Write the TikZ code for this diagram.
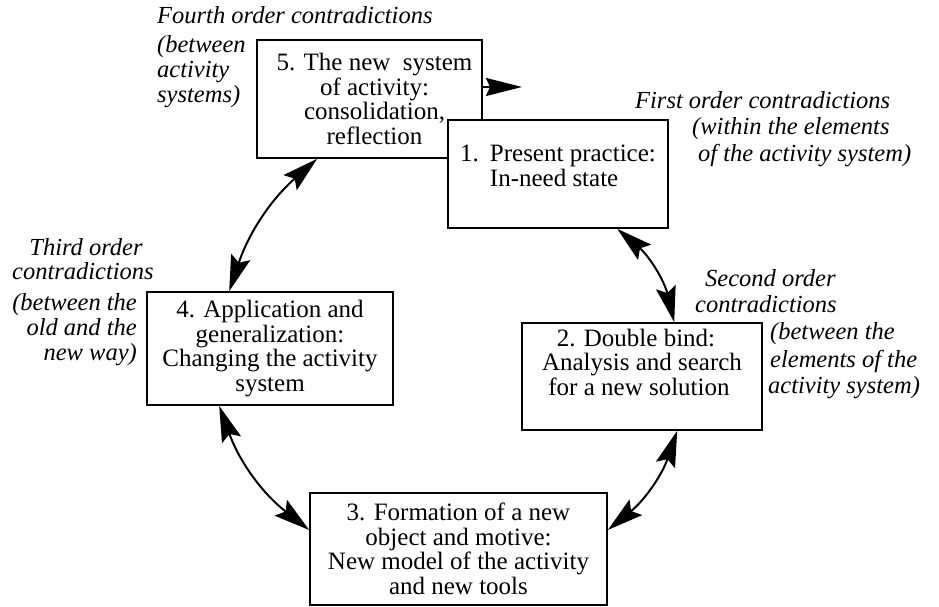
\documentclass[tikz,border=0pt]{standalone}
\usepackage{fontspec}
\setmainfont{Liberation Serif}
\usetikzlibrary{arrows.meta,calc}
\begin{document}
\begin{tikzpicture}[x=1pt,y=1pt,
  box/.style={draw, line width=1.6pt, fill=white, inner sep=0pt, align=center,
    font=\fontsize{25}{24.5}\selectfont},
  lab/.style={inner sep=0pt, font=\fontsize{24.5}{26}\selectfont\itshape},
  cyc/.style={line width=2pt, {Stealth[length=36pt,width=20pt,inset=6pt]}-{Stealth[length=36pt,width=20pt,inset=6pt]}},
]
\useasboundingbox (0,0) rectangle (939,607);

% boxes
\node[box, minimum width=225pt, minimum height=118pt] (b5) at (369.5,508)
  {\hspace*{10pt}5. The new \ system\\\hspace*{10pt}of activity:\\\hspace*{10pt}consolidation,\\\hspace*{10pt}reflection};
\node[box, minimum width=220pt, minimum height=108pt] (b1) at (558,433)
  {\begin{tabular}{@{}l@{\hspace{11pt}}l@{}}1. & Present practice:\\ & In-need state\end{tabular}\\[4pt]};
\node[box, minimum width=246pt, minimum height=113pt] (b4) at (270,258.5)
  {4. Application and\\generalization:\\Changing the activity\\system};
\node[box, minimum width=240pt, minimum height=107pt] (b2) at (642,230.5)
  {\hspace*{-12pt}2. Double bind:\\Analysis and search\\\hspace*{-6pt}for a new solution\\[4pt]};
\node[box, minimum width=297pt, minimum height=112pt] (b3) at (458.5,58)
  {3. Formation of a new\\object and motive:\\New model of the activity\\and new tools};

% connectors
\draw[cyc] ([xshift=61pt]b5.south west) to[bend right=15] ([xshift=83pt]b4.north west);
\draw[cyc] ([xshift=170pt]b1.south west) to[bend left=18] ([xshift=153pt]b2.north west);
\draw[cyc] ([xshift=156pt]b2.south west) to[bend left=16] ([yshift=19pt]b3.east);
\draw[cyc] ([xshift=73pt]b4.south west) to[bend right=16] ([yshift=19pt]b3.west);
\coordinate (a5end) at (522,520);
\draw[line width=2pt, -{Stealth[length=36pt,width=18pt,inset=4pt]}] ([yshift=12pt]b5.east) -- (a5end);

% labels
\node[lab, anchor=base west] (l4a) at (157,583) {Fourth order contradictions};
\node[lab, anchor=base west] (l4b) at (157,554) {(between};
\node[lab, anchor=base west] (l4c) at (157,529) {activity};
\node[lab, anchor=base west] (l4d) at (157,504) {systems)};

\node[lab, anchor=base west] (l1a) at (635,498) {First order contradictions};
\node[lab, anchor=base west] (l1b) at (692,472) {(within the elements};
\node[lab, anchor=base west] (l1c) at (698,445) {of the activity system)};

\node[lab, anchor=base west] (l2a) at (705,320) {Second order};
\node[lab, anchor=base west] (l2b) at (695,294) {contradictions};
\node[lab, anchor=base west] (l2c) at (770,267) {(between the};
\node[lab, anchor=base west] (l2d) at (770,239) {elements of the};
\node[lab, anchor=base west] (l2e) at (768,213) {activity system)};

\node[lab, anchor=base] (l3a) at (86,351) {Third order};
\node[lab, anchor=base west] (l3b) at (12,327) {contradictions};
\node[lab, anchor=base east] (l3c) at (137,296) {(between the};
\node[lab, anchor=base east] (l3d) at (137,271) {old and the};
\node[lab, anchor=base east] (l3e) at (137,246) {new way)};
\end{tikzpicture}
\end{document}
